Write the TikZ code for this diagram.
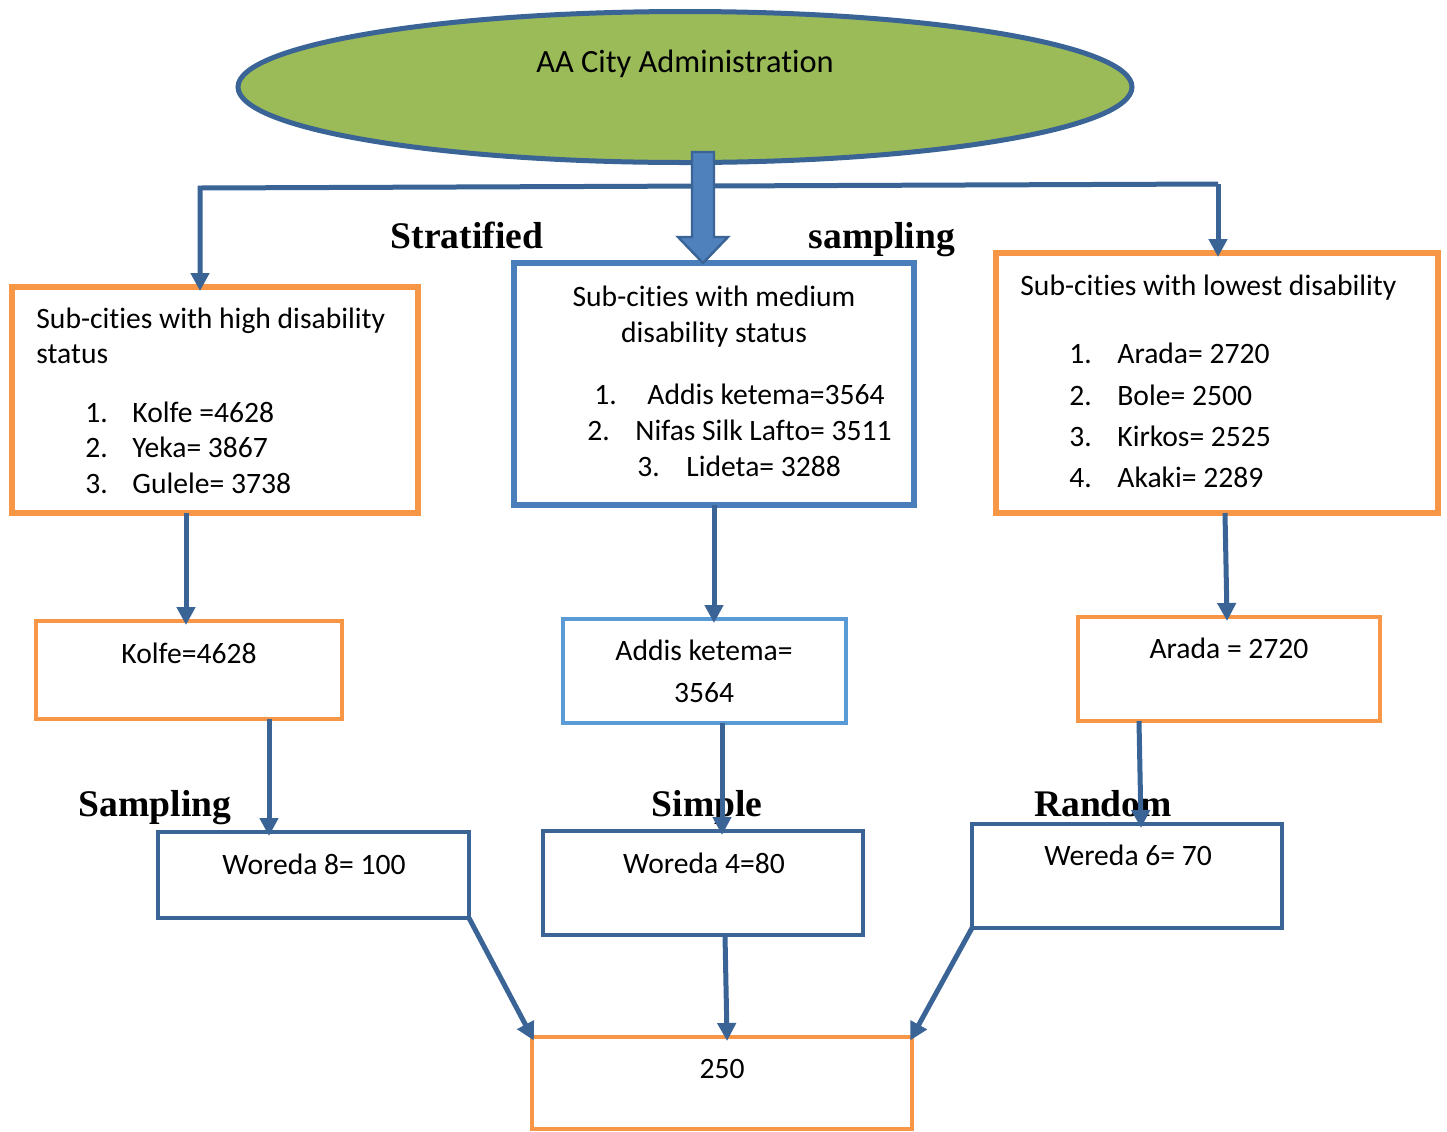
\documentclass[tikz,border=0pt]{standalone}
\usepackage{fontspec}
\setmainfont{Carlito}[RawFeature={-liga;-clig;-calt;-dlig}]
\newfontfamily\labfont{Liberation Serif}
\usetikzlibrary{arrows.meta,shapes.geometric,fit}
\definecolor{lineblue}{RGB}{58,99,150}
\definecolor{boxorange}{RGB}{247,150,70}
\definecolor{boxblue}{RGB}{74,126,187}
\definecolor{lightblue}{RGB}{91,155,213}
\definecolor{citygreen}{RGB}{155,187,89}
\definecolor{arrowfill}{RGB}{79,129,189}
\newcommand{\num}[2]{\makebox[#1][l]{#2}}
\tikzset{
  conn/.style={draw=lineblue, line width=2.5pt, shorten >=-2pt, -{Triangle[length=9pt,width=9pt]}},
  obox/.style={draw=boxorange, line width=3pt, inner sep=0pt, outer sep=0pt},
  othin/.style={draw=boxorange, line width=2pt, inner sep=0pt, outer sep=0pt},
  bbox/.style={draw=boxblue, line width=3pt, inner sep=0pt, outer sep=0pt},
  lbox/.style={draw=lightblue, line width=2pt, inner sep=0pt, outer sep=0pt},
  dbox/.style={draw=lineblue, line width=2.2pt, inner sep=0pt, outer sep=0pt},
  txt/.style={font=\fontsize{14.8}{18}\selectfont, inner sep=0pt},
  lab/.style={font=\labfont\bfseries\fontsize{18.8}{22}\selectfont, inner sep=0pt, anchor=base}
}
\begin{document}
\begin{tikzpicture}[x=0.5pt, y=-0.5pt]
  \useasboundingbox (0,0) rectangle (1447,1131);

  % top
  \node[ellipse, draw=lineblue, line width=2.5pt, fill=citygreen, inner sep=0pt,
        minimum width=447pt, minimum height=75.5pt] (city) at (685,87) {};
  \node[txt, anchor=base, font=\fontsize{16.2}{20}\selectfont] (citytxt) at (685,72) {AA City Administration};

  \coordinate (lt) at (200,188);
  \coordinate (rt) at (1218,184);

  % strata
  \node[obox, fit={(12,287) (418,513)}] (high) {};
  \node[bbox, fit={(514,263) (914,505)}] (medium) {};
  \node[obox, fit={(996,253) (1438,513)}] (low) {};

  \draw[conn] (rt) -- (lt) -- (lt |- high.north);
  \draw[conn] (rt) -- (rt |- low.north);
  \draw[draw=lineblue, line width=1.2pt, fill=arrowfill]
    (692,152) -- (714,152) -- (714,237) -- (728,237) -- (703,0 |- medium.north)
    -- (678,237) -- (692,237) -- cycle;

  \node[lab] (strat) at (467,248) {Stratified};
  \node[lab] (samp) at (882,248) {sampling};

  \node[txt, anchor=base west] (h0) at (36,328) {Sub-cities with high disability};
  \node[txt, anchor=base west] (h1) at (36,363) {status};
  \node[txt, anchor=base west] (h2) at (85,422) {\num{23.5pt}{1.}Kolfe =4628};
  \node[txt, anchor=base west] (h3) at (85,457) {\num{23.5pt}{2.}Yeka= 3867};
  \node[txt, anchor=base west] (h4) at (85,493) {\num{23.5pt}{3.}Gulele= 3738};

  \node[txt, anchor=base] (m0) at (714,306) {Sub-cities with medium};
  \node[txt, anchor=base] (m1) at (714,342) {disability status};
  \node[txt, anchor=base west] (m2) at (594,404) {\num{26.5pt}{1.}Addis ketema=3564};
  \node[txt, anchor=base west] (m3) at (587,440) {\num{24pt}{2.}Nifas Silk Lafto= 3511};
  \node[txt, anchor=base west] (m4) at (637,476) {\num{24.5pt}{3.}Lideta= 3288};

  \node[txt, anchor=base west] (l0) at (1020,295) {Sub-cities with lowest disability};
  \node[txt, anchor=base west] (l1) at (1069,363) {\num{24pt}{1.}Arada= 2720};
  \node[txt, anchor=base west] (l2) at (1069,405) {\num{24pt}{2.}Bole= 2500};
  \node[txt, anchor=base west] (l3) at (1069,446) {\num{24pt}{3.}Kirkos= 2525};
  \node[txt, anchor=base west] (l4) at (1069,487) {\num{24pt}{4.}Akaki= 2289};

  % chosen sub-cities
  \node[othin, fit={(36,621) (342,719)}] (kolfe) {};
  \node[lbox, fit={(563,619) (846,723)}] (addis) {};
  \node[othin, fit={(1078,617) (1380,721)}] (arada) {};
  \node[txt, anchor=base] (kolfetxt) at (189,663) {Kolfe=4628};
  \node[txt, anchor=base] (addistxt) at (704,660) {Addis ketema=};
  \node[txt, anchor=base] (addisnum) at (704,702) {3564};
  \node[txt, anchor=base] (aradatxt) at (1229,658) {Arada = 2720};

  \draw[conn] (186,0 |- high.south) -- (186,0 |- kolfe.north);
  \draw[conn] (714,0 |- medium.south) -- (714,0 |- addis.north);
  \draw[conn] (1225,0 |- low.south) -- (1227,0 |- arada.north);

  % weredas
  \node[dbox, fit={(158,832) (469,918)}] (w8) {};
  \node[dbox, fit={(543,831) (863,935)}] (w4) {};
  \node[dbox, fit={(972,824) (1282,928)}] (w6) {};
  \node[txt, anchor=base] (w8txt) at (314,874) {Woreda 8= 100};
  \node[txt, anchor=base] (w4txt) at (704,873) {Woreda 4=80};
  \node[txt, anchor=base] (w6txt) at (1128,865) {Wereda 6= 70};

  \node[lab] (samp2) at (155,816) {Sampling};
  \node[lab] (simple) at (707,816) {Simple};
  \node[lab] (random) at (1103,816) {Random};

  \draw[conn] (269,0 |- kolfe.south) -- (269,0 |- w8.north);
  \draw[conn] (722,0 |- addis.south) -- (722,0 |- w4.north);
  \draw[conn] (1139,0 |- arada.south) -- (1141,0 |- w6.north);

  % total
  \node[othin, fit={(532,1037) (912,1129)}] (total) {};
  \node[txt, anchor=base] (totaltxt) at (722,1078) {250};

  \draw[conn] (w8.south east) -- (total.north west);
  \draw[conn] (725,0 |- w4.south) -- (727,0 |- total.north);
  \draw[conn] (w6.south west) -- (total.north east);
\end{tikzpicture}
\end{document}
